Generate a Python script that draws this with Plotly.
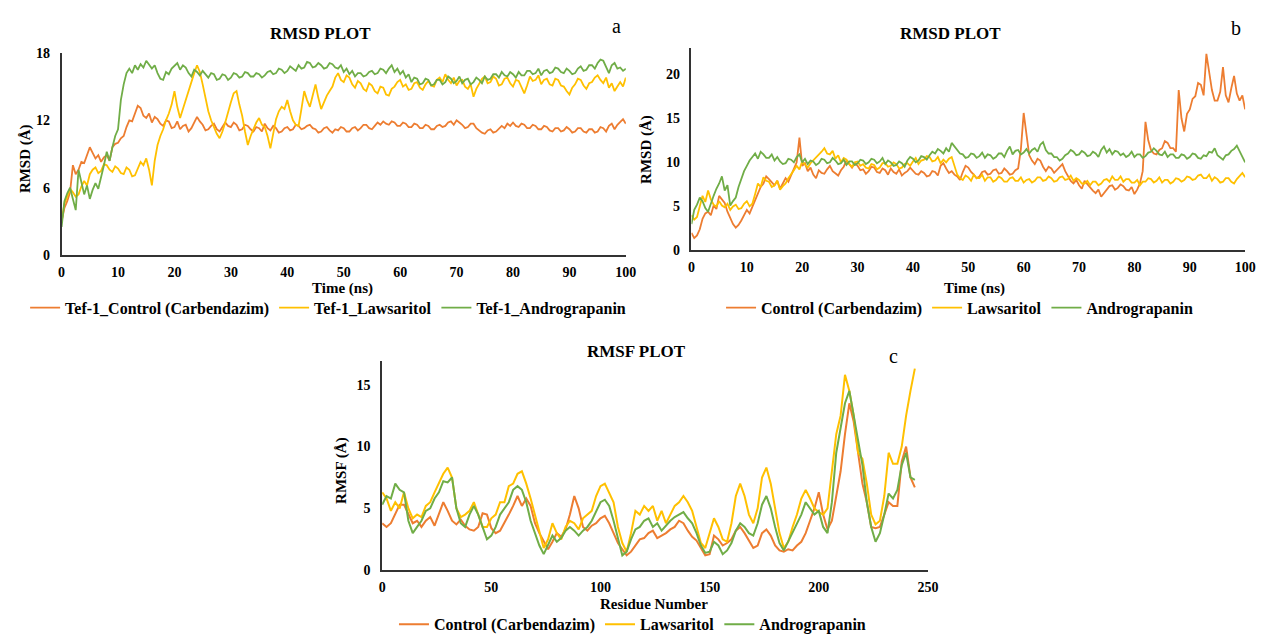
import plotly.graph_objects as go

# ---------------- data ----------------
# RMSD sampled every 0.5 ns (0 .. 100 ns)
time_ns = [i / 2 for i in range(201)]

a_control = [
    3.0, 4.2, 4.8, 5.6, 8.0, 7.2, 7.6, 8.3, 8.2, 8.9, 9.6, 9.1, 8.6, 8.9, 8.3, 8.7, 8.9, 8.4, 9.6, 9.9,
    10.0, 10.4, 10.6, 11.4, 12.0, 11.9, 12.6, 13.3, 13.1, 12.4, 12.2, 12.6, 11.8, 12.3, 12.1, 11.7, 11.5, 12.0, 11.9, 11.3,
    11.4, 11.9, 11.2, 11.5, 11.6, 11.0, 11.3, 11.8, 12.3, 11.9, 11.6, 11.1, 11.2, 11.5, 11.7, 11.2, 11.0, 11.4, 11.8, 11.5,
    11.4, 11.8, 11.6, 11.1, 11.2, 11.6, 11.5, 11.2, 11.0, 11.4, 11.3, 11.0, 11.7, 11.3, 11.1, 11.5, 11.3, 10.9, 11.0, 11.3,
    11.4, 11.1, 11.2, 11.6, 11.5, 11.2, 11.3, 11.5, 11.6, 11.3, 11.2, 10.9, 11.0, 11.3, 11.4, 11.1, 10.9, 11.2, 11.1, 11.4,
    11.3, 11.0, 11.0, 11.3, 11.4, 11.1, 11.3, 11.6, 11.6, 11.3, 11.2, 11.5, 11.8, 11.6, 11.9, 11.7, 11.6, 11.9, 11.8, 11.5,
    11.5, 11.8, 11.7, 11.4, 11.4, 11.7, 11.6, 11.3, 11.3, 11.6, 11.5, 11.2, 11.2, 11.5, 11.6, 11.4, 11.5, 11.8, 11.9, 11.6,
    12.0, 11.8, 11.6, 11.3, 11.4, 11.7, 11.7, 11.3, 11.1, 10.9, 10.8, 11.1, 11.2, 10.9, 11.0, 11.3, 11.5, 11.3, 11.7, 11.5,
    11.8, 11.5, 11.4, 11.7, 11.6, 11.3, 11.3, 11.6, 11.5, 11.2, 11.2, 11.5, 11.4, 11.1, 11.0, 11.3, 11.3, 11.0, 11.1, 11.4,
    11.2, 10.9, 11.0, 11.3, 11.3, 11.0, 10.9, 11.2, 11.2, 10.9, 11.0, 11.4, 11.3, 11.0, 11.5, 11.7, 11.2, 11.6, 11.9, 12.1,
    11.7]
a_lawsaritol = [
    3.0, 4.6, 5.2, 5.9, 5.6, 5.2, 5.4, 6.1, 6.6, 6.2, 7.2, 7.6, 7.8, 7.3, 7.5, 8.1, 8.0, 7.6, 7.4, 7.9,
    7.7, 7.3, 7.2, 7.8, 7.6, 7.0, 7.1, 7.7, 8.3, 8.0, 8.6, 7.6, 6.2, 8.4, 9.8, 10.6, 11.2, 12.0, 12.6, 13.4,
    14.6, 13.2, 12.2, 13.0, 13.8, 14.8, 15.6, 16.2, 16.9, 16.3, 15.2, 14.0, 12.8, 12.0, 11.4, 10.8, 10.4, 11.0, 11.8, 12.8,
    13.6, 14.4, 14.6, 13.4, 12.4, 11.0, 9.8, 10.6, 11.2, 11.8, 12.2, 11.6, 11.4, 10.6, 9.5, 10.8, 12.1, 12.8, 13.2, 13.0,
    13.8, 12.8, 12.0, 11.6, 11.5, 13.0, 14.6, 13.8, 13.2, 14.2, 15.2, 14.0, 13.0, 13.6, 14.2, 14.6, 15.0, 15.8, 16.2, 15.6,
    15.4, 16.0, 15.8, 15.2, 14.9, 15.5, 15.3, 14.8, 14.6, 15.3, 15.1, 14.6, 14.4, 15.0, 14.9, 14.3, 14.2, 14.8, 15.0, 15.4,
    15.6, 15.0, 15.2, 14.7, 14.8, 15.3, 15.4, 14.9, 14.7, 15.2, 15.5, 15.1, 15.0, 15.6, 15.8, 15.4, 16.1, 15.6, 15.3, 15.8,
    15.1, 15.5, 15.6, 15.0, 14.8, 15.2, 14.1, 14.8, 15.3, 15.7, 15.9, 15.3, 15.4, 15.9, 15.7, 15.1, 15.2, 15.7, 15.8, 15.3,
    15.0, 15.6, 15.5, 14.9, 14.4, 15.1, 15.9, 15.5, 15.6, 16.0, 15.2, 15.6, 15.7, 15.2, 15.1, 15.7, 15.6, 15.1, 15.0, 14.6,
    14.3, 14.9, 15.2, 15.7, 15.6, 15.1, 14.8, 15.3, 15.4, 15.8, 16.0, 15.6, 15.3, 15.8, 14.9, 15.3, 14.6, 15.0, 15.4, 15.0,
    15.8]
a_andrograpanin = [
    2.5, 4.8, 5.5, 6.0, 5.0, 4.0, 7.6, 6.5, 5.4, 6.2, 5.0, 5.8, 6.4, 5.9, 6.9, 8.0, 9.2, 8.4, 9.6, 10.6,
    11.2, 13.8, 15.2, 16.2, 16.6, 16.2, 16.9, 16.5, 17.0, 16.7, 17.3, 16.9, 16.6, 16.9, 16.2, 15.7, 15.6, 16.3, 16.1, 16.6,
    16.9, 17.1, 16.5, 16.9, 16.7, 16.2, 15.9, 16.5, 16.3, 16.0, 16.4, 16.1, 15.8, 16.2, 16.1, 15.6, 15.7, 16.1, 16.0, 15.6,
    15.8, 16.2, 16.1, 15.8, 15.9, 16.3, 16.2, 15.9, 15.9, 16.2, 16.1, 15.8, 16.0, 16.3, 16.4, 16.1, 16.2, 16.6, 16.5, 16.2,
    16.4, 16.8, 16.6, 16.4, 16.9, 16.6, 16.7, 17.2, 17.1, 16.7, 16.8, 17.1, 16.9, 16.6, 16.7, 17.1, 17.0, 16.7, 16.6, 16.9,
    16.3, 16.6, 16.1, 16.4, 15.9, 16.2, 16.2, 15.9, 16.0, 16.3, 16.4, 16.1, 16.2, 16.6, 16.5, 16.2, 16.6, 16.9, 16.3, 16.6,
    16.1, 16.4, 15.8, 16.1, 15.4, 15.8, 15.7, 15.2, 15.3, 15.7, 15.6, 15.1, 15.2, 15.6, 15.6, 15.2, 15.4, 15.9, 15.7, 15.3,
    15.5, 15.9, 15.3, 15.6, 15.7, 15.2, 15.4, 15.8, 15.6, 15.3, 15.9, 15.6, 15.7, 16.1, 16.1, 15.8, 16.3, 16.0, 15.9, 16.3,
    16.1, 15.8, 16.3, 16.0, 16.0, 16.4, 16.4, 16.1, 16.2, 16.6, 16.0, 16.4, 16.5, 16.2, 16.3, 16.7, 16.6, 16.3, 16.2, 16.6,
    16.4, 16.1, 16.2, 16.6, 16.8, 16.4, 16.5, 16.9, 16.9, 16.6, 17.1, 17.4, 17.3, 16.8, 16.2, 16.9, 17.1, 16.6, 16.7, 16.4,
    16.6]

b_control = [
    2.0, 1.4, 1.7, 2.4, 3.6, 4.2, 4.4, 4.0, 5.1, 4.7, 6.2, 5.8, 5.4, 4.4, 3.6, 3.0, 2.6, 2.9, 3.4, 4.0,
    4.6, 4.2, 5.0, 5.8, 6.6, 7.2, 7.6, 8.4, 8.1, 7.7, 7.4, 7.9, 7.0, 7.6, 8.2, 7.8, 8.6, 9.2, 10.0, 12.8,
    9.6, 9.9, 9.0, 9.4, 8.6, 8.2, 9.1, 8.8, 8.7, 9.2, 9.6, 9.0, 8.8, 8.5, 9.1, 9.5, 10.2, 9.8, 9.4, 9.9,
    9.6, 9.1, 9.2, 8.7, 9.0, 9.5, 9.4, 8.9, 8.8, 9.3, 9.1, 8.6, 9.3, 8.9, 8.7, 9.2, 8.5, 8.8, 9.0, 9.4,
    9.1, 8.7, 8.6, 9.0, 8.8, 8.4, 8.5, 9.0, 8.9, 8.5, 9.6, 9.9, 9.3, 8.8, 9.0, 8.6, 8.4, 8.0, 8.9, 9.6,
    9.4, 8.9, 8.6, 8.2, 8.4, 8.9, 9.0, 8.6, 8.7, 9.1, 9.2, 8.7, 8.8, 9.3, 9.0, 8.6, 8.7, 9.1, 9.3, 11.5,
    15.6, 13.0, 10.8, 10.2, 9.8, 10.4, 10.2, 9.5, 9.0, 9.5, 9.3, 8.8, 9.1, 9.5, 9.8, 9.0, 8.4, 7.9, 7.6, 8.0,
    7.4, 7.0, 7.9, 7.5, 7.1, 6.8, 6.5, 6.9, 6.1, 6.5, 6.9, 7.3, 7.4, 6.9, 7.1, 7.5, 7.3, 6.9, 6.8, 7.2,
    6.4, 6.9, 7.6, 9.0, 14.6, 12.5, 11.4, 11.0, 10.9, 11.4, 11.6, 12.4, 12.2, 11.6, 11.6, 11.2, 18.2, 15.0, 13.5, 15.5,
    16.0, 17.2, 17.5, 19.0, 18.8, 17.6, 22.3, 20.0, 18.2, 17.0, 17.0, 18.0, 20.8, 17.6, 16.8, 18.4, 19.8, 17.8, 17.0, 17.6,
    16.0]
b_lawsaritol = [
    4.0, 3.5, 3.8, 5.0, 6.2, 5.5, 6.8, 5.8, 5.2, 5.0, 5.6, 5.1, 4.9, 5.3, 4.6, 5.0, 5.2, 4.7, 4.8, 5.3,
    5.6, 5.0, 5.3, 6.4, 7.6, 7.2, 8.3, 7.9, 7.8, 7.2, 7.4, 7.9, 6.9, 7.3, 7.6, 8.2, 8.6, 9.1, 9.6, 9.2,
    10.1, 9.7, 9.4, 9.9, 10.2, 10.6, 10.8, 11.2, 11.6, 11.0, 10.9, 11.3, 10.4, 10.8, 10.0, 10.5, 10.3, 9.8, 9.5, 10.0,
    10.1, 9.6, 9.8, 9.4, 9.3, 9.8, 9.7, 9.2, 9.4, 9.9, 9.9, 9.5, 9.6, 10.0, 9.8, 9.3, 9.4, 9.8, 9.9, 9.6,
    10.1, 10.5, 9.8, 10.2, 10.3, 10.7, 10.6, 10.1, 10.2, 10.6, 9.9, 10.3, 10.0, 10.4, 10.6, 9.6, 8.6, 8.2, 8.0, 8.5,
    8.3, 7.9, 8.6, 8.2, 8.2, 8.6, 7.9, 8.3, 8.3, 7.8, 8.0, 8.4, 8.2, 7.8, 7.8, 8.2, 8.3, 7.9, 7.9, 8.3,
    7.7, 8.0, 8.1, 7.7, 7.9, 8.3, 8.3, 7.9, 8.0, 8.4, 8.2, 7.8, 7.9, 8.3, 8.4, 8.0, 8.1, 8.5, 7.9, 8.2,
    8.0, 7.6, 7.6, 7.9, 7.4, 7.8, 7.8, 7.4, 7.6, 8.0, 8.1, 7.8, 8.4, 8.0, 8.0, 8.4, 7.8, 8.1, 8.1, 7.7,
    7.7, 8.0, 7.4, 7.8, 7.8, 8.2, 8.1, 7.7, 7.9, 8.3, 7.7, 8.0, 8.0, 7.6, 7.8, 8.2, 8.1, 7.8, 8.0, 8.4,
    8.3, 8.0, 8.1, 8.5, 8.6, 8.2, 8.2, 8.6, 7.9, 8.3, 8.1, 7.7, 7.8, 8.2, 8.2, 7.8, 7.6, 8.1, 8.4, 8.8,
    8.3]
b_andrograpanin = [
    3.0, 4.6, 5.2, 6.0, 5.6, 4.8, 4.4, 5.4, 6.2, 7.0, 7.6, 8.4, 6.8, 7.4, 5.1, 5.6, 6.0, 7.2, 8.2, 9.0,
    9.6, 10.2, 10.6, 11.0, 10.4, 11.2, 10.9, 10.5, 10.5, 10.9, 10.2, 10.6, 10.1, 9.8, 9.9, 10.4, 10.3, 10.0, 10.6, 10.9,
    10.0, 10.4, 9.8, 10.2, 10.1, 9.7, 9.9, 10.4, 10.3, 9.9, 10.0, 10.5, 10.2, 9.8, 9.9, 10.3, 9.7, 10.1, 10.1, 9.7,
    9.9, 10.3, 10.2, 9.8, 10.0, 10.4, 10.3, 9.9, 10.1, 10.5, 9.8, 10.2, 10.0, 9.6, 9.7, 10.1, 9.9, 9.5, 10.2, 10.6,
    10.4, 10.0, 10.2, 10.7, 10.6, 10.3, 10.8, 11.2, 11.0, 11.5, 11.3, 11.0, 11.6, 11.2, 12.2, 11.8, 11.4, 11.0, 10.9, 10.5,
    10.6, 11.0, 10.9, 10.5, 10.7, 11.1, 10.5, 10.9, 10.8, 10.4, 10.6, 11.0, 11.0, 10.6, 11.3, 11.8, 10.9, 11.3, 11.4, 10.9,
    11.1, 11.5, 11.0, 11.4, 11.6, 11.2, 12.0, 12.3, 11.4, 11.0, 11.0, 10.6, 10.6, 10.2, 10.4, 10.8, 11.0, 11.4, 11.2, 10.8,
    10.9, 11.3, 11.1, 10.7, 10.8, 11.2, 11.0, 10.6, 11.4, 11.8, 11.1, 11.5, 10.9, 11.3, 11.2, 10.8, 11.0, 10.6, 10.8, 11.2,
    10.6, 10.9, 10.9, 10.5, 10.7, 11.1, 11.2, 11.6, 11.3, 10.9, 10.8, 11.2, 10.6, 10.9, 10.9, 10.5, 10.5, 10.9, 10.8, 10.4,
    10.6, 11.0, 10.9, 10.5, 10.4, 10.8, 10.7, 11.2, 11.1, 11.6, 10.8, 10.5, 10.3, 10.8, 10.9, 11.3, 11.5, 11.9, 11.2, 10.6,
    10.0]

# RMSF sampled every 2 residues (0 .. 244)
residue = list(range(0, 245, 2))
c_control = [3.8, 3.5, 3.8, 4.5, 5.3, 5.3, 4.5, 3.8, 4.0, 3.5, 4.0, 4.3, 3.6, 4.5, 5.5, 4.8, 4.0, 3.7, 4.1, 3.6,
             3.3, 3.2, 3.5, 4.6, 4.5, 3.4, 3.0, 3.2, 3.8, 4.5, 5.2, 6.0, 5.2, 5.8, 5.2, 3.8, 3.0, 2.3, 1.7, 2.3,
             3.0, 2.7, 3.3, 4.5, 6.0, 5.0, 3.5, 3.2, 3.6, 3.8, 4.2, 4.4, 3.8, 3.0, 2.2, 1.7, 1.2, 1.5, 2.0, 2.5,
             2.6, 3.0, 3.2, 2.6, 2.8, 3.0, 3.3, 3.5, 4.0, 3.8, 3.2, 2.7, 2.4, 1.8, 1.2, 1.3, 2.8, 2.5, 2.0, 2.2,
             2.5, 3.2, 3.5, 3.0, 2.4, 1.8, 2.0, 3.0, 3.3, 2.8, 2.0, 1.6, 1.5, 1.7, 1.6, 2.0, 2.3, 3.0, 4.0, 5.0,
             6.3, 4.5, 3.3, 4.0, 6.0, 8.0, 11.0, 13.5, 12.0, 9.5, 7.0, 5.5, 3.5, 3.4, 3.5, 4.5, 5.5, 5.2, 5.2, 8.8,
             10.0, 7.5, 6.7]
c_lawsaritol = [6.3, 5.8, 4.8, 5.5, 5.0, 6.3, 5.0, 4.2, 4.5, 4.3, 5.2, 5.5, 6.3, 7.0, 7.8, 8.3, 7.5, 5.0, 4.3, 4.5,
                4.8, 5.5, 4.5, 3.5, 3.5, 4.2, 4.5, 5.5, 5.5, 6.8, 7.0, 7.8, 8.0, 7.0, 5.8, 4.5, 3.0, 1.8, 2.5, 3.8,
                3.0, 2.5, 3.5, 4.0, 3.8, 3.3, 4.2, 4.5, 4.8, 6.0, 6.8, 7.0, 6.2, 5.5, 3.5, 2.2, 1.5, 3.0, 4.8, 4.5,
                5.2, 4.8, 5.2, 4.0, 4.8, 3.8, 4.5, 5.2, 5.5, 6.0, 5.5, 4.8, 3.5, 2.2, 1.8, 3.0, 4.2, 3.5, 2.5, 2.3,
                3.8, 6.0, 7.0, 6.0, 4.5, 3.8, 5.0, 7.5, 8.3, 7.0, 5.0, 3.0, 1.8, 2.3, 3.5, 4.5, 5.8, 6.5, 5.8, 5.0,
                4.7, 4.5, 5.0, 8.0, 11.0, 12.5, 15.8, 14.5, 12.5, 9.5, 9.0, 7.0, 4.5, 3.7, 4.0, 6.0, 9.5, 8.6, 8.6, 10.0,
                12.5, 14.5, 16.3]
c_andrograpanin = [5.3, 6.0, 5.8, 7.0, 6.5, 6.3, 4.0, 3.0, 3.5, 4.0, 4.8, 5.0, 5.8, 6.3, 7.2, 7.1, 7.5, 5.0, 3.8, 3.5,
                   4.5, 5.2, 4.5, 3.5, 2.5, 2.8, 3.5, 4.5, 5.0, 5.5, 6.5, 6.8, 6.5, 5.5, 4.0, 3.0, 2.0, 1.3, 2.0, 2.8,
                   2.3, 2.6, 3.2, 3.5, 3.2, 2.8, 3.2, 3.5, 4.0, 4.8, 5.5, 5.7, 5.2, 4.0, 2.5, 1.2, 1.5, 2.5, 3.3, 3.5,
                   4.0, 4.2, 3.5, 3.8, 3.2, 3.6, 4.0, 4.3, 4.5, 4.7, 4.2, 3.8, 3.0, 2.0, 1.4, 1.5, 2.3, 2.0, 1.3, 1.6,
                   2.2, 3.2, 3.8, 3.5, 3.0, 2.8, 3.8, 5.3, 6.0, 5.0, 3.5, 2.2, 1.6, 2.3, 3.0, 3.8, 4.5, 5.5, 5.0, 4.5,
                   4.8, 3.5, 3.0, 5.5, 9.5, 11.5, 13.5, 14.5, 12.5, 10.5, 8.5, 5.5, 3.5, 2.3, 3.0, 4.5, 6.2, 5.8, 6.5, 8.5,
                   9.5, 7.5, 7.3]

for s in (a_control, a_lawsaritol, a_andrograpanin, b_control, b_lawsaritol, b_andrograpanin):
    assert len(s) == len(time_ns), len(s)
for s in (c_control, c_lawsaritol, c_andrograpanin):
    assert len(s) == len(residue), len(s)

names_a = ["Tef-1_Control (Carbendazim)", "Tef-1_Lawsaritol", "Tef-1_Andrograpanin"]
names_bc = ["Control (Carbendazim)", "Lawsaritol", "Andrograpanin"]
colors = ["#ED7D31", "#FFC000", "#70AD47"]

# ---------------- figure ----------------
W, H = 1268, 642
FONT = "'Times New Roman', 'Liberation Serif', serif"


def fx(px):
    return px / W


def fy(py):
    return 1 - py / H


fig = go.Figure()

for name, ys, col in zip(names_a, [a_control, a_lawsaritol, a_andrograpanin], colors):
    fig.add_trace(go.Scatter(x=time_ns, y=ys, name=name, mode="lines",
                             line=dict(color=col, width=1.8), xaxis="x", yaxis="y", legend="legend"))
for name, ys, col in zip(names_bc, [b_control, b_lawsaritol, b_andrograpanin], colors):
    fig.add_trace(go.Scatter(x=time_ns, y=ys, name=name, mode="lines",
                             line=dict(color=col, width=1.8), xaxis="x2", yaxis="y2", legend="legend2"))
for name, ys, col in zip(names_bc, [c_control, c_lawsaritol, c_andrograpanin], colors):
    fig.add_trace(go.Scatter(x=residue, y=ys, name=name, mode="lines",
                             line=dict(color=col, width=2), xaxis="x3", yaxis="y3", legend="legend3"))

tickfont = dict(family=FONT, size=14, color="black", weight="bold")
axis_common = dict(showgrid=False, zeroline=False, showline=True, linecolor="#333333", linewidth=1.5,
                   ticks="", tickfont=tickfont, fixedrange=True)

legend_font = dict(family=FONT, size=16, color="black", weight="bold")

fig.update_layout(
    width=W, height=H,
    margin=dict(l=0, r=0, t=0, b=0),
    paper_bgcolor="white", plot_bgcolor="white",
    xaxis=dict(domain=[fx(58.3), fx(629.3)], range=[0, 100], dtick=10, anchor="y",
               ticklabelstandoff=3, **axis_common),
    yaxis=dict(domain=[fy(254), fy(47)], range=[0, 18], dtick=6, anchor="x",
               ticklabelstandoff=7, **axis_common),
    xaxis2=dict(domain=[fx(695.7), fx(1256)], range=[0, 100], dtick=10, anchor="y2",
                ticklabelstandoff=3, **axis_common),
    yaxis2=dict(domain=[fy(249.3), fy(41.7)], range=[0, 23], tickvals=[0, 5, 10, 15, 20], anchor="x2",
                ticklabelstandoff=7, **axis_common),
    xaxis3=dict(domain=[fx(382.7), fx(935)], range=[0, 250], dtick=50, anchor="y3",
                ticklabelstandoff=3, **axis_common),
    yaxis3=dict(domain=[fy(576.7), fy(362.7)], range=[0, 16.9], tickvals=[0, 5, 10, 15], anchor="x3",
                ticklabelstandoff=7, **axis_common),
    legend=dict(orientation="h", x=fx(328), y=fy(308), xanchor="center", yanchor="middle",
                font=legend_font, bgcolor="rgba(0,0,0,0)", itemwidth=30),
    legend2=dict(orientation="h", x=fx(967), y=fy(308), xanchor="center", yanchor="middle",
                 font=legend_font, bgcolor="rgba(0,0,0,0)", itemwidth=30),
    legend3=dict(orientation="h", x=fx(636), y=fy(632), xanchor="center", yanchor="middle",
                 font=legend_font, bgcolor="rgba(0,0,0,0)", itemwidth=30),
    showlegend=True,
)

ann_bold = dict(family=FONT, color="black", weight="bold")
annotations = [
    dict(text="RMSD PLOT", x=fx(320), y=fy(27), font=dict(size=17, **ann_bold)),
    dict(text="RMSD PLOT", x=fx(958), y=fy(27), font=dict(size=17, **ann_bold)),
    dict(text="RMSF PLOT", x=fx(640), y=fy(353), font=dict(size=17, **ann_bold)),
    dict(text="a", x=fx(620), y=fy(19), font=dict(family=FONT, size=20, color="black")),
    dict(text="b", x=fx(1247), y=fy(21), font=dict(family=FONT, size=20, color="black")),
    dict(text="c", x=fx(900), y=fy(357), font=dict(family=FONT, size=20, color="black")),
    dict(text="Time (ns)", x=fx(343), y=fy(288), font=dict(size=15, **ann_bold)),
    dict(text="Time (ns)", x=fx(982), y=fy(288), font=dict(size=15, **ann_bold)),
    dict(text="Residue Number", x=fx(658), y=fy(611), font=dict(size=15, **ann_bold)),
    dict(text="RMSD (Å)", x=fx(22), y=fy(155), textangle=-90, font=dict(size=15, **ann_bold)),
    dict(text="RMSD (Å)", x=fx(650), y=fy(146), textangle=-90, font=dict(size=15, **ann_bold)),
    dict(text="RMSF (Å)", x=fx(342), y=fy(474), textangle=-90, font=dict(size=15, **ann_bold)),
]
for a in annotations:
    a.update(xref="paper", yref="paper", showarrow=False, xanchor="center", yanchor="middle")
fig.update_layout(annotations=annotations)

fig.write_html("out.html")
